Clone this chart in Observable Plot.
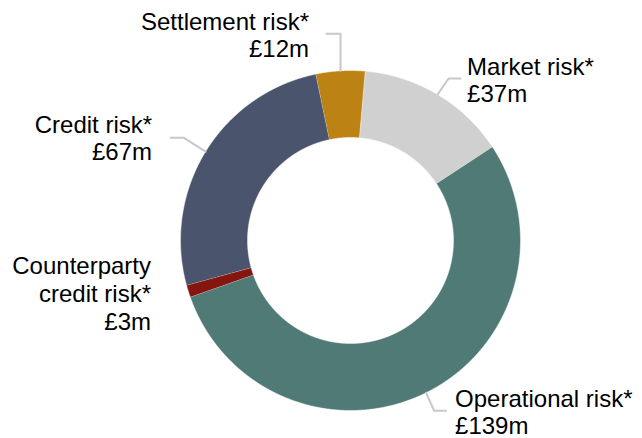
<!DOCTYPE html>
<html><head><meta charset="utf-8">
<script src="https://cdn.jsdelivr.net/npm/d3@7"></script>
<script src="https://cdn.jsdelivr.net/npm/@observablehq/plot@0.6"></script>
<style>body{margin:0;background:#fff}</style>
</head><body><div id="chart"></div>
<script>
// ---- data ----
const categories = ["Market risk*", "Operational risk*", "Counterparty credit risk*", "Credit risk*", "Settlement risk*"];
const labelNames = ["Market risk*", "Operational risk*", "Counterparty\ncredit risk*", "Credit risk*", "Settlement risk*"];
const values = [37, 139, 3, 67, 12];
const valueLabels = ["£37m", "£139m", "£3m", "£67m", "£12m"];
const colors = ["#d0d0d0", "#507a76", "#84160f", "#4a546c", "#bc8214"];

// ---- layout (pixels) ----
const W = 642, H = 438, CX = 350, CY = 240, R = 170, R_IN = 103;
const START_DEG = 5;
// offsets (px) from the slice's outer edge at its mid-angle
const labelLayout = {
  "Market risk*":              {elbow: [11, -16], end: [23, -16], text: [29.5, -14.7], anchor: "start"},
  "Operational risk*":         {elbow: [8, 18],   end: [20, 18],  text: [29, 19],  anchor: "start"},
  "Counterparty credit risk*": {elbow: null,      end: null,      text: [-37.2, 2],  anchor: "end"},
  "Credit risk*":              {elbow: [-22, -14], end: [-35, -14], text: [-53.5, -14], anchor: "end"},
  "Settlement risk*":          {elbow: [0, -37],  end: [-14, -37], text: [-31.5, -36], anchor: "end"}
};

const toRad = Math.PI / 180;
const arcs = d3.pie().sort(null).value(d => d)
  .startAngle(START_DEG * toRad).endAngle(START_DEG * toRad + 2 * Math.PI)(values);

const rIn = R_IN / R;
const slicePts = [];
arcs.forEach((a, i) => {
  const n = Math.max(2, Math.ceil((a.endAngle - a.startAngle) / (0.25 * toRad)));
  for (let k = 0; k <= n; k++) {
    const t = a.startAngle + (a.endAngle - a.startAngle) * k / n;
    slicePts.push({name: categories[i], x: Math.sin(t), y: Math.cos(t)});
  }
  for (let k = n; k >= 0; k--) {
    const t = a.startAngle + (a.endAngle - a.startAngle) * k / n;
    slicePts.push({name: categories[i], x: rIn * Math.sin(t), y: rIn * Math.cos(t)});
  }
});

const leaders = [];
const labels = [];
arcs.forEach((a, i) => {
  const mid = (a.startAngle + a.endAngle) / 2;
  const ex = Math.sin(mid), ey = Math.cos(mid);
  const L = labelLayout[categories[i]];
  const off = p => ({x: ex + p[0] / R, y: ey - p[1] / R});
  if (L.elbow) {
    [[0, 0], L.elbow, L.end].forEach(p => leaders.push({name: categories[i], ...off(p)}));
  }
  labels.push({name: categories[i], text: labelNames[i] + "\n" + valueLabels[i], anchor: L.anchor, ...off(L.text)});
});

const textOpts = {x: "x", y: "y", text: "text", lineAnchor: "middle", lineHeight: 1.15, fontSize: 24, fill: "#000"};
const chart = Plot.plot({
  width: W, height: H, margin: 0,
  style: {fontFamily: "'Liberation Sans', Arial, sans-serif", background: "#fff", overflow: "visible"},
  x: {domain: [(0 - CX) / R, (W - CX) / R], axis: null},
  y: {domain: [(CY - H) / R, CY / R], axis: null},
  color: {domain: categories, range: colors},
  marks: [
    Plot.line(slicePts, {x: "x", y: "y", z: "name", fill: "name", stroke: "white", strokeWidth: 0.5, curve: "linear"}),
    Plot.line(leaders, {x: "x", y: "y", z: "name", stroke: "#c8c8c8", strokeWidth: 2, curve: "linear"}),
    Plot.text(labels.filter(d => d.anchor === "start"), {...textOpts, textAnchor: "start"}),
    Plot.text(labels.filter(d => d.anchor === "end"), {...textOpts, textAnchor: "end"})
  ]
});
document.getElementById("chart").appendChild(chart);
</script>
</body></html>
